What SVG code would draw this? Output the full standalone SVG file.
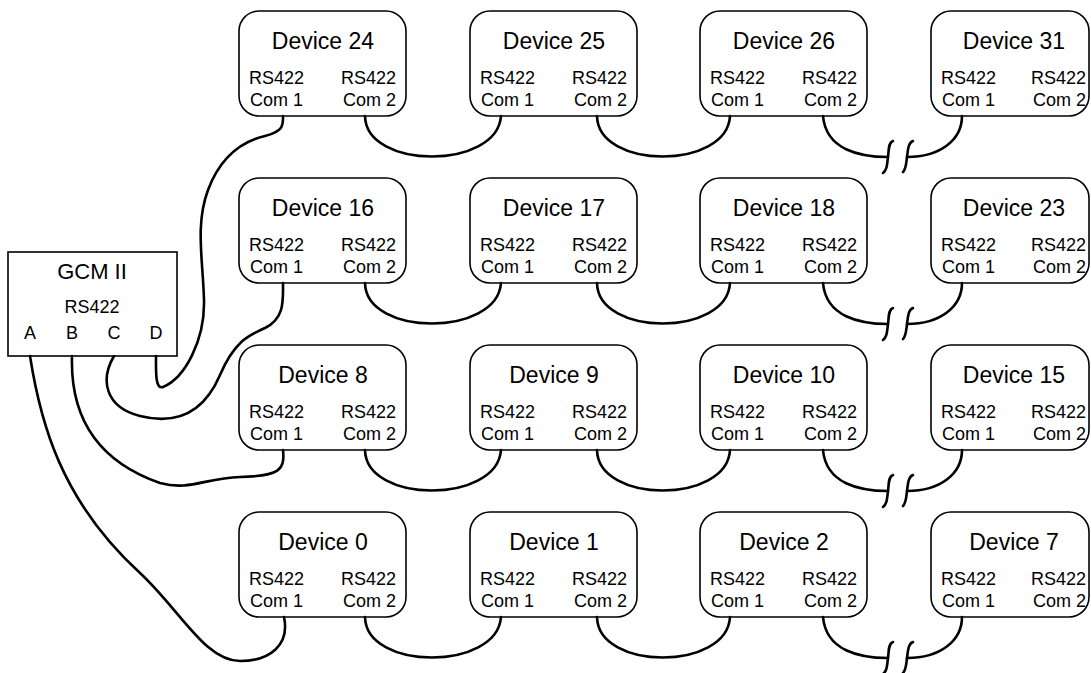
<svg xmlns="http://www.w3.org/2000/svg" width="1091" height="673" viewBox="0 0 1091 673">
<style>
.box{fill:#fff;stroke:#000;stroke-width:1.6}
.t{font-family:"Liberation Sans",Arial,sans-serif;fill:#000}
.title{font-size:23px;text-anchor:middle}
.port{font-size:18px}
.r{text-anchor:end}
.c{text-anchor:middle}
.w{fill:none;stroke:#000;stroke-width:2.6;stroke-linecap:round}
</style>
<defs>
<g id="chain">
<path class="w" d="M365,116 C366,170 497,170 501,116"/>
<path class="w" d="M597,116 C598,170 727,170 730,116"/>
<path class="w" d="M823,116 C826,150 860,157 888,157"/>
<path class="w" d="M907,157 C940,157 962,140 962,116"/>
<path class="w" d="M893,141 C888,143 889,150 888,157 C887,165 887,170 883,173"/>
<path class="w" d="M913,141 C908,143 908,150 907,157 C906,165 906,169 903,172"/>
</g>
</defs>
<rect width="1091" height="673" fill="#fff"/>

<g id="gcm">
<rect class="box" x="8" y="252" width="169" height="104"/>
<text class="t c" x="92" y="279" font-size="22">GCM II</text>
<text class="t c" x="92" y="313" font-size="18">RS422</text>
<text class="t c" x="30" y="339" font-size="18">A</text>
<text class="t c" x="72" y="339" font-size="18">B</text>
<text class="t c" x="114" y="339" font-size="18">C</text>
<text class="t c" x="156" y="339" font-size="18">D</text>
</g>

<g id="dev24"><rect class="box" x="239" y="11" width="167" height="105" rx="20"/><text class="t title" x="323" y="49">Device 24</text><text class="t port" x="249" y="84">RS422</text><text class="t port" x="250" y="106">Com 1</text><text class="t port r" x="396" y="84">RS422</text><text class="t port r" x="396" y="106">Com 2</text></g>
<g id="dev25"><rect class="box" x="470" y="11" width="167" height="105" rx="20"/><text class="t title" x="554" y="49">Device 25</text><text class="t port" x="480" y="84">RS422</text><text class="t port" x="481" y="106">Com 1</text><text class="t port r" x="627" y="84">RS422</text><text class="t port r" x="627" y="106">Com 2</text></g>
<g id="dev26"><rect class="box" x="700" y="11" width="167" height="105" rx="20"/><text class="t title" x="784" y="49">Device 26</text><text class="t port" x="710" y="84">RS422</text><text class="t port" x="711" y="106">Com 1</text><text class="t port r" x="857" y="84">RS422</text><text class="t port r" x="857" y="106">Com 2</text></g>
<g id="dev31"><rect class="box" x="931" y="11" width="158" height="105" rx="20"/><text class="t title" x="1014" y="49">Device 31</text><text class="t port" x="941" y="84">RS422</text><text class="t port" x="942" y="106">Com 1</text><text class="t port r" x="1086" y="84">RS422</text><text class="t port r" x="1086" y="106">Com 2</text></g>

<g id="dev16"><rect class="box" x="239" y="178" width="167" height="105" rx="20"/><text class="t title" x="323" y="216">Device 16</text><text class="t port" x="249" y="251">RS422</text><text class="t port" x="250" y="273">Com 1</text><text class="t port r" x="396" y="251">RS422</text><text class="t port r" x="396" y="273">Com 2</text></g>
<g id="dev17"><rect class="box" x="470" y="178" width="167" height="105" rx="20"/><text class="t title" x="554" y="216">Device 17</text><text class="t port" x="480" y="251">RS422</text><text class="t port" x="481" y="273">Com 1</text><text class="t port r" x="627" y="251">RS422</text><text class="t port r" x="627" y="273">Com 2</text></g>
<g id="dev18"><rect class="box" x="700" y="178" width="167" height="105" rx="20"/><text class="t title" x="784" y="216">Device 18</text><text class="t port" x="710" y="251">RS422</text><text class="t port" x="711" y="273">Com 1</text><text class="t port r" x="857" y="251">RS422</text><text class="t port r" x="857" y="273">Com 2</text></g>
<g id="dev23"><rect class="box" x="931" y="178" width="158" height="105" rx="20"/><text class="t title" x="1014" y="216">Device 23</text><text class="t port" x="941" y="251">RS422</text><text class="t port" x="942" y="273">Com 1</text><text class="t port r" x="1086" y="251">RS422</text><text class="t port r" x="1086" y="273">Com 2</text></g>

<g id="dev8"><rect class="box" x="239" y="345" width="167" height="105" rx="20"/><text class="t title" x="323" y="383">Device 8</text><text class="t port" x="249" y="418">RS422</text><text class="t port" x="250" y="440">Com 1</text><text class="t port r" x="396" y="418">RS422</text><text class="t port r" x="396" y="440">Com 2</text></g>
<g id="dev9"><rect class="box" x="470" y="345" width="167" height="105" rx="20"/><text class="t title" x="554" y="383">Device 9</text><text class="t port" x="480" y="418">RS422</text><text class="t port" x="481" y="440">Com 1</text><text class="t port r" x="627" y="418">RS422</text><text class="t port r" x="627" y="440">Com 2</text></g>
<g id="dev10"><rect class="box" x="700" y="345" width="167" height="105" rx="20"/><text class="t title" x="784" y="383">Device 10</text><text class="t port" x="710" y="418">RS422</text><text class="t port" x="711" y="440">Com 1</text><text class="t port r" x="857" y="418">RS422</text><text class="t port r" x="857" y="440">Com 2</text></g>
<g id="dev15"><rect class="box" x="931" y="345" width="158" height="105" rx="20"/><text class="t title" x="1014" y="383">Device 15</text><text class="t port" x="941" y="418">RS422</text><text class="t port" x="942" y="440">Com 1</text><text class="t port r" x="1086" y="418">RS422</text><text class="t port r" x="1086" y="440">Com 2</text></g>

<g id="dev0"><rect class="box" x="239" y="512" width="167" height="105" rx="20"/><text class="t title" x="323" y="550">Device 0</text><text class="t port" x="249" y="585">RS422</text><text class="t port" x="250" y="607">Com 1</text><text class="t port r" x="396" y="585">RS422</text><text class="t port r" x="396" y="607">Com 2</text></g>
<g id="dev1"><rect class="box" x="470" y="512" width="167" height="105" rx="20"/><text class="t title" x="554" y="550">Device 1</text><text class="t port" x="480" y="585">RS422</text><text class="t port" x="481" y="607">Com 1</text><text class="t port r" x="627" y="585">RS422</text><text class="t port r" x="627" y="607">Com 2</text></g>
<g id="dev2"><rect class="box" x="700" y="512" width="167" height="105" rx="20"/><text class="t title" x="784" y="550">Device 2</text><text class="t port" x="710" y="585">RS422</text><text class="t port" x="711" y="607">Com 1</text><text class="t port r" x="857" y="585">RS422</text><text class="t port r" x="857" y="607">Com 2</text></g>
<g id="dev7"><rect class="box" x="931" y="512" width="158" height="105" rx="20"/><text class="t title" x="1014" y="550">Device 7</text><text class="t port" x="941" y="585">RS422</text><text class="t port" x="942" y="607">Com 1</text><text class="t port r" x="1086" y="585">RS422</text><text class="t port r" x="1086" y="607">Com 2</text></g>

<g id="connectors">
<use href="#chain"/>
<use href="#chain" y="167"/>
<use href="#chain" y="334"/>
<use href="#chain" y="501"/>
<path class="w" d="M30,356 C40,420 60,500 140,573 C180,610 205,661 240,661 C270,661 290,645 284,617"/>
<path class="w" d="M72,356 C70,420 100,462 160,483 C190,491 205,478 240,477 C280,476 285,470 283,450"/>
<path class="w" d="M114,356 C100,380 105,407 140,416 C180,426 205,410 220,375 C235,340 250,335 265,328 C285,318 283,300 283,283"/>
<path class="w" d="M156,356 C156,370 155,390 163,387 C185,378 205,340 204,300 C203,260 195,225 208,190 C220,158 240,142 265,136 C284,131 283,125 283,116"/>
</g>
</svg>
